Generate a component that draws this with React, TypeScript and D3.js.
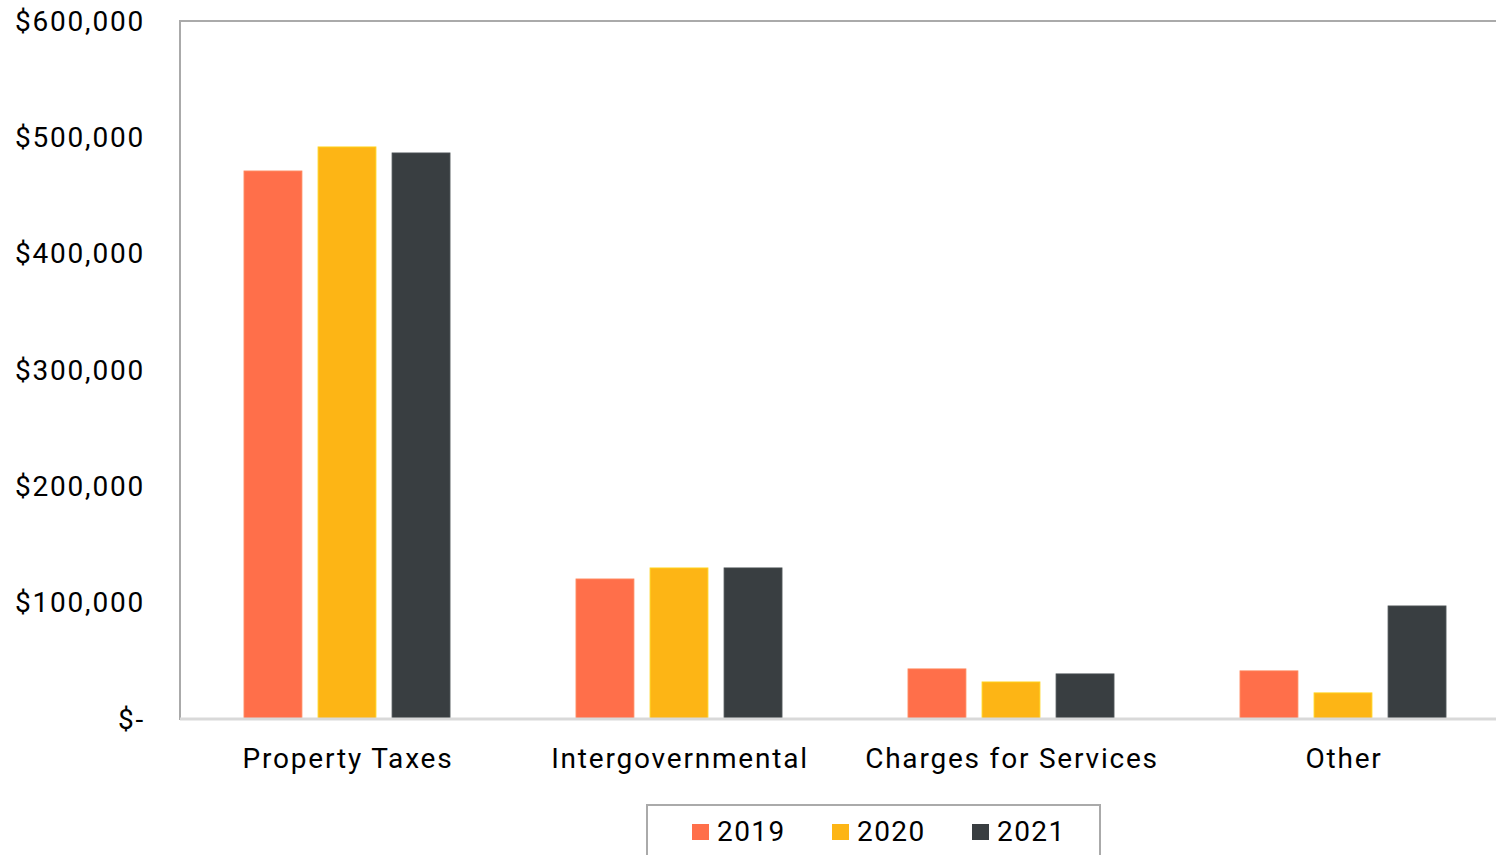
import React from "react";
import * as d3 from "d3";

const categories = ["Property Taxes", "Intergovernmental", "Charges for Services", "Other"];
const years = ["2019", "2020", "2021"];
const values2019 = [471000, 120300, 43000, 41300];
const values2020 = [491700, 129800, 31800, 22400];
const values2021 = [486500, 129800, 38700, 97100];
const yTicks = [0, 100000, 200000, 300000, 400000, 500000, 600000];
const colors = ["#FF6F4A", "#FDB515", "#393E41"];

const W = 1496, H = 855;
const left = 180, right = 1508, top = 21, bottom = 719;
const FONT = "Roboto, sans-serif";

export default function App() {
  const series = [values2019, values2020, values2021];
  const x = d3.scaleBand().domain(categories).range([left, right]).paddingInner(0.38).paddingOuter(0.19);
  const x1 = d3.scaleBand().domain(years).range([0, x.bandwidth()]).paddingInner(0.22);
  const y = d3.scaleLinear().domain([0, 600000]).range([bottom, top]);
  const fmt = (v: number) => (v === 0 ? "$-" : "$" + d3.format(",")(v));

  return (
    <svg width={W} height={H} style={{ position: "absolute", left: 0, top: 0, background: "#fff" }}>
      <rect x={left} y={top} width={right - left} height={bottom - top} fill="none" stroke="#AAAAAA" strokeWidth={2} />
      {categories.map((c, ci) =>
        years.map((yr, si) => {
          const v = series[si][ci];
          return (
            <rect
              key={c + yr}
              x={(x(c) as number) + (x1(yr) as number) + 1}
              y={y(v)}
              width={x1.bandwidth()}
              height={bottom - y(v)}
              fill={colors[si]}
              stroke={d3.color(colors[si])!.brighter(0.4).toString()}
              strokeWidth={1}
            />
          );
        })
      )}
      <line x1={left} x2={right} y1={bottom} y2={bottom} stroke="#D9D9D9" strokeWidth={3} />
      {yTicks.map((t) => (
        <text key={t} x={145} y={y(t)} dy="0.35em" textAnchor="end" fontFamily={FONT} fontSize={28} letterSpacing={1.8} fill="#000">
          {fmt(t)}
        </text>
      ))}
      {categories.map((c) => (
        <text key={c} x={(x(c) as number) + x.bandwidth() / 2 + 2} y={768} textAnchor="middle" fontFamily={FONT} fontSize={28} letterSpacing={1.8} fill="#000">
          {c}
        </text>
      ))}
      <rect x={647} y={805} width={453} height={70} fill="#fff" stroke="#AAAAAA" strokeWidth={2} />
      {years.map((yr, i) => (
        <g key={yr} transform={`translate(${692 + i * 140},0)`}>
          <rect x={0} y={824} width={17} height={16} fill={colors[i]} />
          <text x={25} y={841} fontFamily={FONT} fontSize={28} letterSpacing={1.4} fill="#000">
            {yr}
          </text>
        </g>
      ))}
    </svg>
  );
}
